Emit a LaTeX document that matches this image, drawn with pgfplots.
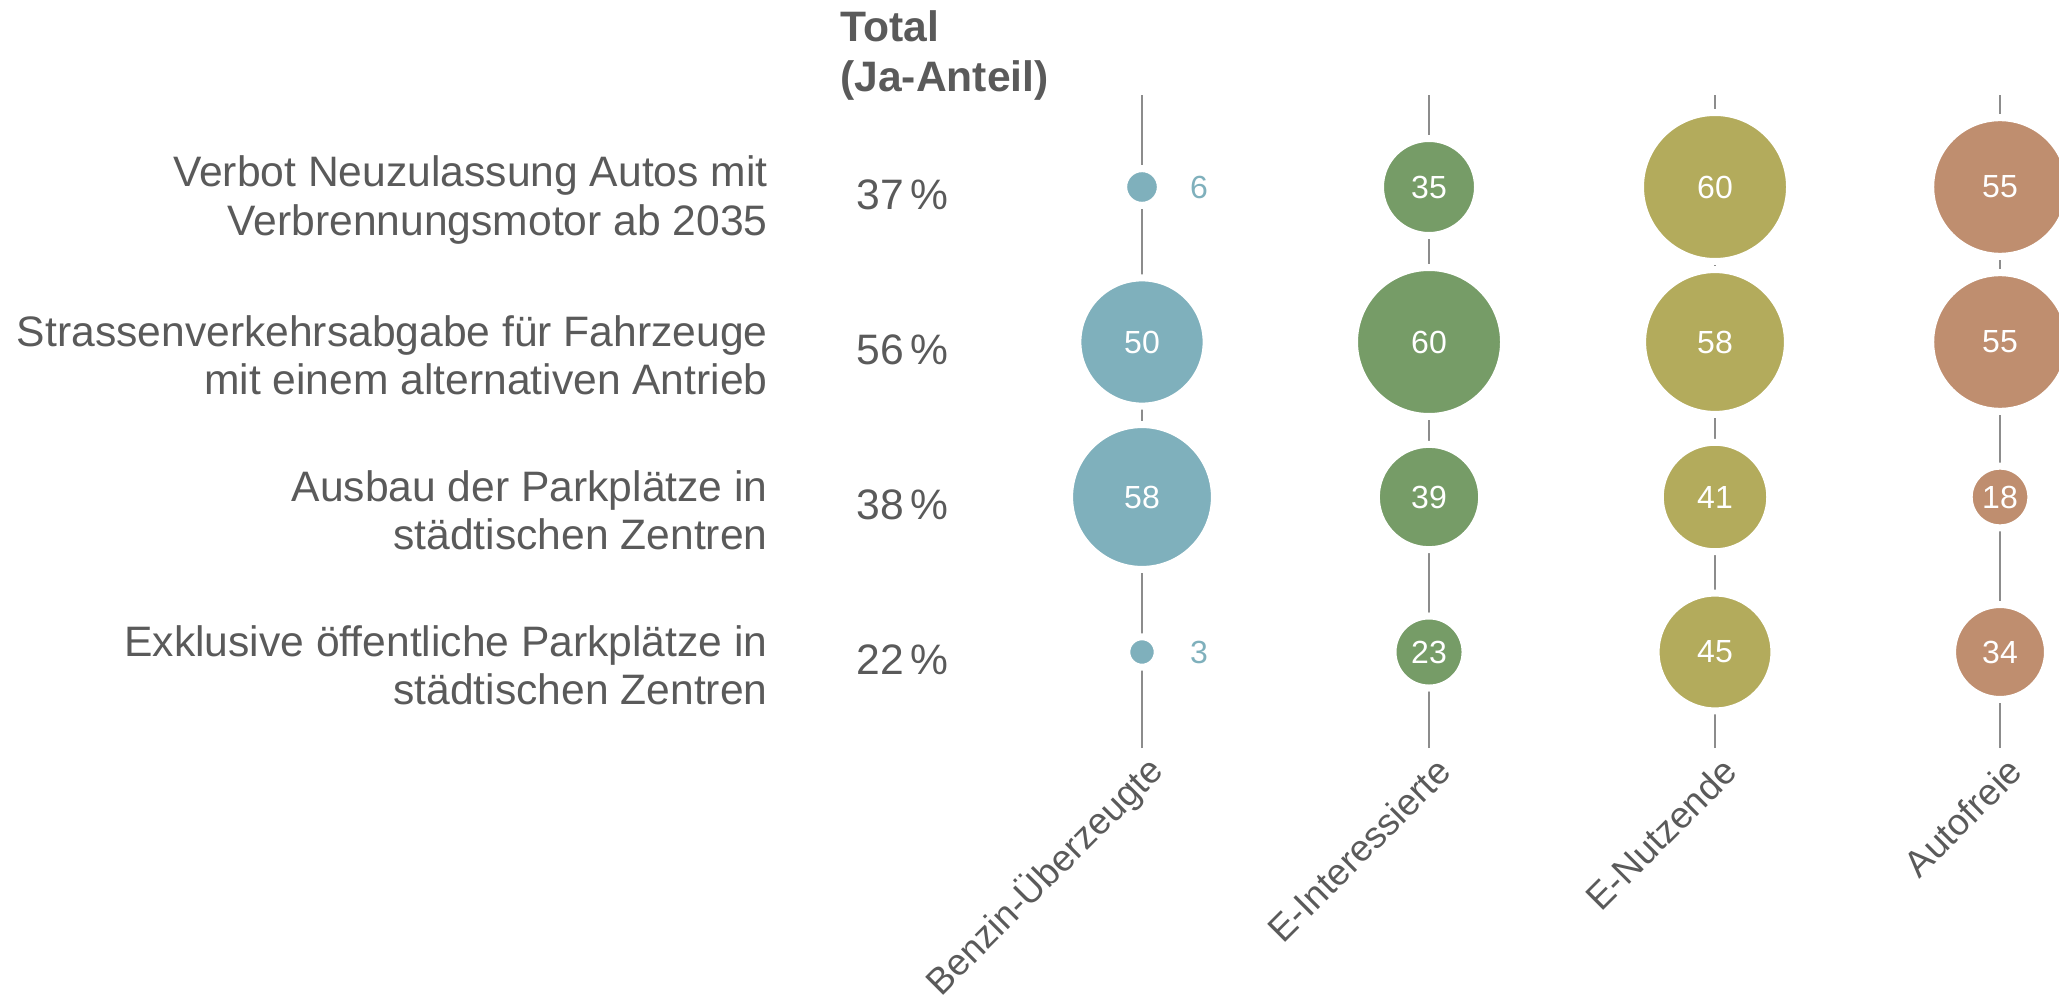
\documentclass[border=0pt]{standalone}
\usepackage{pgfplots}
\pgfplotsset{compat=1.18}
\usepackage{fontspec}
\setmainfont{Liberation Sans}
\definecolor{txt}{HTML}{5A5A5A}
\definecolor{cBlue}{HTML}{7FB0BC}
\definecolor{cGreen}{HTML}{769C67}
\definecolor{cOlive}{HTML}{B3AB5C}
\definecolor{cBrown}{HTML}{BF8E6F}
\definecolor{cLine}{HTML}{8C8C8C}
% bubble: x, y, value, colour ; radius grows linearly with the value
\newcommand\bubble[4]{%
  \addplot[only marks, mark=*, mark size={6.05+0.52*#3},
    mark options={fill=#4, draw=white, line width=3.5pt},
    point meta=explicit, nodes near coords,
    nodes near coords style={anchor=center, text=white, font=\fontsize{16}{16}\selectfont}]
    coordinates {(#1,#2) [#3]};}
\newcommand\bubbleout[4]{%
  \addplot[only marks, mark=*, mark size={6.05+0.52*#3},
    mark options={fill=#4, draw=white, line width=3.5pt},
    point meta=explicit, nodes near coords,
    nodes near coords style={anchor=center, xshift=28.5pt, text=#4, font=\fontsize{16}{16}\selectfont}]
    coordinates {(#1,#2) [#3]};}
\begin{document}
\begin{tikzpicture}[x=1pt,y=1pt]
\useasboundingbox (0,-124) rectangle (1029.5,374);
\clip (0,-124) rectangle (1029.5,374);
\begin{axis}[
  at={(0,0)}, anchor=south west,
  scale only axis, width=1029.5pt, height=374pt,
  xmin=0, xmax=2059, ymin=0, ymax=748,
  axis line style={draw=none}, tick style={draw=none},
  clip=false,
  /pgf/number format/assume math mode=true,
  xtick={1142,1429,1715,2000},
  xticklabels={Benzin-Überzeugte,E-Interessierte,E-Nutzende,Autofreie},
  xticklabel style={xshift=10pt, yshift=-6pt, rotate=45, anchor=east,
    font=\fontsize{18.5}{22}\selectfont, text=txt},
  ytick={96,251,406,561},
  yticklabels={{Exklusive öffentliche Parkplätze in\\städtischen Zentren},
               {Ausbau der Parkplätze in\\städtischen Zentren},
               {Strassenverkehrsabgabe für Fahrzeuge\\mit einem alternativen Antrieb},
               {Verbot Neuzulassung Autos mit\\Verbrennungsmotor ab 2035}},
  yticklabel style={anchor=east, align=right, inner sep=0pt, xshift=384pt, yshift=-6.5pt,
    font=\fontsize{21.3}{24.2}\selectfont, text=txt},
]
% vertical guide lines
\addplot[cLine, line width=1pt] coordinates {(1142,0) (1142,653)};
\addplot[cLine, line width=1pt] coordinates {(1429,0) (1429,653)};
\addplot[cLine, line width=1pt] coordinates {(1715,0) (1715,653)};
\addplot[cLine, line width=1pt] coordinates {(2000,0) (2000,653)};
% Benzin-Überzeugte
\bubbleout{1142}{561}{6}{cBlue}
\bubble{1142}{406}{50}{cBlue}
\bubble{1142}{251}{58}{cBlue}
\bubbleout{1142}{96}{3}{cBlue}
% E-Interessierte
\bubble{1429}{561}{35}{cGreen}
\bubble{1429}{406}{60}{cGreen}
\bubble{1429}{251}{39}{cGreen}
\bubble{1429}{96}{23}{cGreen}
% E-Nutzende
\bubble{1715}{561}{60}{cOlive}
\bubble{1715}{406}{58}{cOlive}
\bubble{1715}{251}{41}{cOlive}
\bubble{1715}{96}{45}{cOlive}
% Autofreie
\bubble{2000}{561}{55}{cBrown}
\bubble{2000}{406}{55}{cBrown}
\bubble{2000}{251}{18}{cBrown}
\bubble{2000}{96}{34}{cBrown}
% Total column
\node[anchor=west, align=left, inner sep=0pt, text=txt,
  font=\bfseries\fontsize{21.3}{25}\selectfont] at (axis cs:840,692.5) {Total\\(Ja-Anteil)};
\node[anchor=west, inner sep=0pt, text=txt, font=\fontsize{21.3}{23.3}\selectfont] at (axis cs:856,553) {37\,\%};
\node[anchor=west, inner sep=0pt, text=txt, font=\fontsize{21.3}{23.3}\selectfont] at (axis cs:856,398) {56\,\%};
\node[anchor=west, inner sep=0pt, text=txt, font=\fontsize{21.3}{23.3}\selectfont] at (axis cs:856,243) {38\,\%};
\node[anchor=west, inner sep=0pt, text=txt, font=\fontsize{21.3}{23.3}\selectfont] at (axis cs:856,88) {22\,\%};
\end{axis}
\end{tikzpicture}
\end{document}
